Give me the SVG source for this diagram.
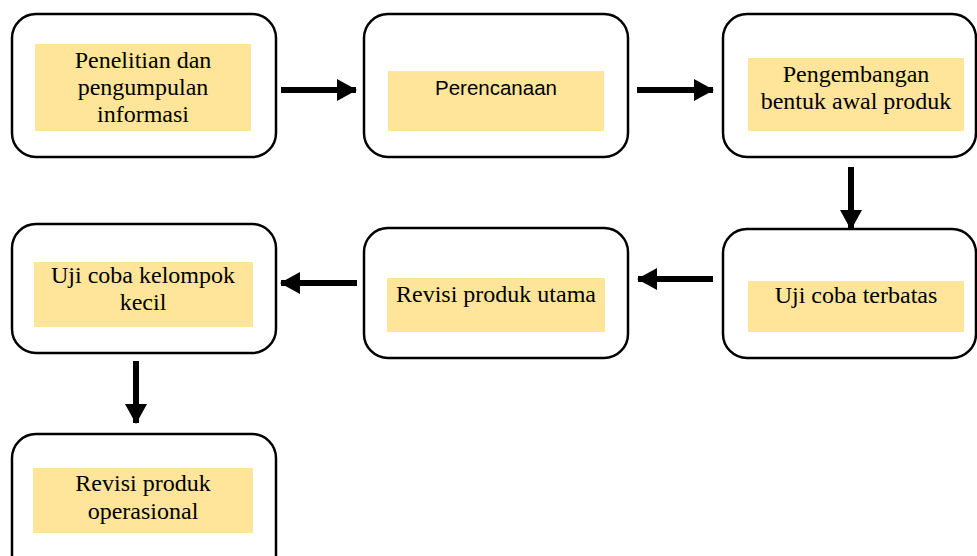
<svg xmlns="http://www.w3.org/2000/svg" width="977" height="556" viewBox="0 0 977 556">
<style>
.box{fill:#fff;stroke:#000;stroke-width:2.5}
.hl{fill:#FFE599}
.t{font-family:'Liberation Serif','Times New Roman','DejaVu Serif',serif;font-size:24px;fill:#000;text-anchor:middle}
.s{font-family:'Liberation Sans',Arial,sans-serif;font-size:20.5px;fill:#000;text-anchor:middle}
.c{stroke:#000;stroke-width:6;fill:none}
</style>
<defs>
<marker id="ah" markerUnits="userSpaceOnUse" markerWidth="20" markerHeight="22" refX="19" refY="11" orient="auto">
<path d="M0,0 L20,11 L0,22 Z" fill="#000"/>
</marker>
</defs>
<rect width="977" height="556" fill="#fff"/>
<g id="n1">
<rect class="box" x="12" y="14" width="264" height="143" rx="24"/>
<rect class="hl" x="35" y="44" width="216" height="87"/>
<text class="t" x="143" y="68">Penelitian dan</text>
<text class="t" x="143" y="95">pengumpulan</text>
<text class="t" x="143" y="122">informasi</text>
</g>
<g id="n2">
<rect class="box" x="364" y="14" width="264" height="143" rx="24"/>
<rect class="hl" x="388" y="71" width="216" height="60"/>
<text class="s" x="496" y="95">Perencanaan</text>
</g>
<g id="n3">
<rect class="box" x="723" y="14" width="253" height="143" rx="24"/>
<rect class="hl" x="748" y="58" width="216" height="73"/>
<text class="t" x="856" y="82">Pengembangan</text>
<text class="t" x="856" y="109">bentuk awal produk</text>
</g>
<g id="n4">
<rect class="box" x="723" y="229" width="253" height="129" rx="24"/>
<rect class="hl" x="748" y="281" width="216" height="51"/>
<text class="t" x="856" y="303">Uji coba terbatas</text>
</g>
<g id="n5">
<rect class="box" x="364" y="228" width="264" height="130" rx="24"/>
<rect class="hl" x="387" y="278" width="218" height="54"/>
<text class="t" x="496" y="302">Revisi produk utama</text>
</g>
<g id="n6">
<rect class="box" x="12" y="224" width="264" height="129" rx="24"/>
<rect class="hl" x="34" y="262" width="219" height="65"/>
<text class="t" x="143" y="283">Uji coba kelompok</text>
<text class="t" x="143" y="310">kecil</text>
</g>
<g id="n7">
<rect class="box" x="12" y="434" width="264" height="150" rx="24"/>
<rect class="hl" x="33" y="468" width="220" height="65"/>
<text class="t" x="143" y="491">Revisi produk</text>
<text class="t" x="143" y="519">operasional</text>
</g>
<g id="connectors">
<line class="c" x1="281" y1="90" x2="356" y2="90" marker-end="url(#ah)"/>
<line class="c" x1="637" y1="90" x2="713" y2="90" marker-end="url(#ah)"/>
<line class="c" x1="851" y1="167" x2="851" y2="229" marker-end="url(#ah)"/>
<line class="c" x1="713" y1="279" x2="638" y2="279" marker-end="url(#ah)"/>
<line class="c" x1="357" y1="283" x2="281" y2="283" marker-end="url(#ah)"/>
<line class="c" x1="136" y1="361" x2="136" y2="423" marker-end="url(#ah)"/>
</g>
</svg>
